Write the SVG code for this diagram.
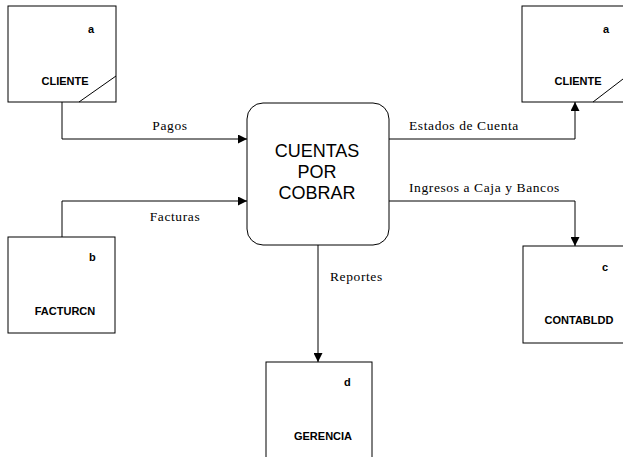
<svg xmlns="http://www.w3.org/2000/svg" width="623" height="457" viewBox="0 0 623 457">
<style>
.box{fill:#fff;stroke:#000;stroke-width:1}
.ent{font-family:"Liberation Sans",Arial,sans-serif;font-size:11px;font-weight:bold;fill:#000}
.lbl{font-family:"Liberation Serif","Times New Roman",serif;font-size:13.5px;letter-spacing:0.6px;fill:#000}
.proc{font-family:"Liberation Sans",Arial,sans-serif;font-size:18px;fill:#000;text-anchor:middle}
.con{fill:none;stroke:#000;stroke-width:1}
</style>
<defs>
<marker id="ah" viewBox="0 0 10 10" refX="10" refY="5" markerWidth="9" markerHeight="9" markerUnits="userSpaceOnUse" orient="auto">
<path d="M0,0 L10,5 L0,10 z" fill="#000"/>
</marker>
</defs>
<rect width="623" height="457" fill="#fff"/>
<g id="connectors">
<polyline class="con" points="62,102 62,139 247,139" marker-end="url(#ah)"/>
<polyline class="con" points="62,237 62,201 247,201" marker-end="url(#ah)"/>
<polyline class="con" points="389,139 575,139 575,102" marker-end="url(#ah)"/>
<polyline class="con" points="389,201 575,201 575,246" marker-end="url(#ah)"/>
<line class="con" x1="318" y1="245" x2="318" y2="362" marker-end="url(#ah)"/>
<text class="lbl" x="170" y="130" text-anchor="middle">Pagos</text>
<text class="lbl" x="175" y="221" text-anchor="middle">Facturas</text>
<text class="lbl" x="409" y="130">Estados de Cuenta</text>
<text class="lbl" x="409" y="192">Ingresos a Caja y Bancos</text>
<text class="lbl" x="330" y="281">Reportes</text>
</g>
<g id="cliente1">
<rect class="box" x="8" y="6" width="108" height="96"/>
<line class="con" x1="79" y1="102" x2="116" y2="76"/>
<text class="ent" x="88" y="33">a</text>
<text class="ent" x="65" y="85" text-anchor="middle">CLIENTE</text>
</g>
<g id="cliente2">
<rect class="box" x="522" y="6" width="110" height="96"/>
<line class="con" x1="593" y1="102" x2="623" y2="79"/>
<text class="ent" x="603" y="33">a</text>
<text class="ent" x="578" y="85" text-anchor="middle">CLIENTE</text>
</g>
<g id="process">
<rect class="box" x="247" y="103" width="142" height="142" rx="16" ry="16" stroke="#555"/>
<text class="proc" x="317" y="157">CUENTAS</text>
<text class="proc" x="317" y="178">POR</text>
<text class="proc" x="317" y="199">COBRAR</text>
</g>
<g id="facturcn">
<rect class="box" x="8" y="237" width="107" height="96"/>
<text class="ent" x="89" y="261">b</text>
<text class="ent" x="65" y="315" text-anchor="middle">FACTURCN</text>
</g>
<g id="contabldd">
<rect class="box" x="523" y="246" width="110" height="97"/>
<text class="ent" x="602" y="271">c</text>
<text class="ent" x="579" y="324" text-anchor="middle">CONTABLDD</text>
</g>
<g id="gerencia">
<rect class="box" x="266" y="362" width="106" height="110"/>
<text class="ent" x="344" y="386">d</text>
<text class="ent" x="323" y="440" text-anchor="middle">GERENCIA</text>
</g>
</svg>
